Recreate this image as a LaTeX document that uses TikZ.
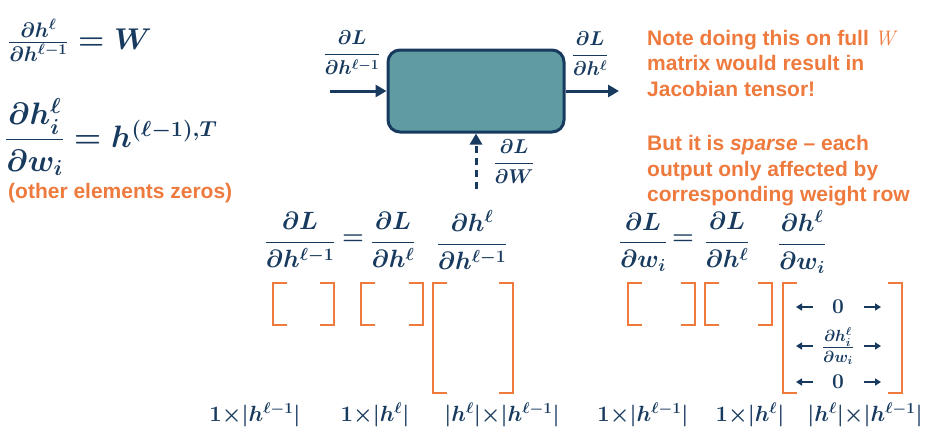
\RequirePackage{fix-cm}
\documentclass[tikz,border=0pt]{standalone}
\usepackage{amsmath}
\usepackage{fontspec}
\usetikzlibrary{arrows.meta}
\newfontfamily\notefont{Liberation Sans}
\definecolor{navyc}{HTML}{173A5E}
\definecolor{tealc}{HTML}{5F9BA1}
\definecolor{orangec}{HTML}{EE7A3E}
% one orange bracket pair: left x, right x, top y, bottom y
\newcommand\brkpair[4]{%
  \draw[brk] (#1+14,#3) -- (#1,#3) -- (#1,#4) -- (#1+14,#4);
  \draw[brk] (#2-14,#3) -- (#2,#3) -- (#2,#4) -- (#2-14,#4);}
\begin{document}
\begin{tikzpicture}[x=1pt,y=-1pt,
  eq/.style={text=navyc, inner sep=0pt, font=\fontsize{25}{28}\selectfont\boldmath},
  note/.style={text=orangec, inner sep=0pt, align=left,
    font=\notefont\bfseries\fontsize{21}{25.5}\selectfont},
  layerbox/.style={draw=navyc, fill=tealc, line width=3pt, rounded corners=12pt,
    minimum width=176pt, minimum height=82pt},
  arr/.style={draw=navyc, line width=3pt, -{Triangle[length=11pt,width=12pt]}},
  sarr/.style={draw=navyc, line width=2pt, -{Triangle[length=6pt,width=7pt]}},
  brk/.style={draw=orangec, line width=2.6pt}]
\useasboundingbox (0,0) rectangle (942,445);

% local gradients
\node[eq, anchor=west, font=\fontsize{30}{34}\selectfont\boldmath] (dhdh) at (8,40)
  {$\frac{\partial h^{\ell}}{\partial h^{\ell-1}} = W$};
\node[eq, anchor=west, font=\fontsize{31}{34}\selectfont\boldmath] (dhdw) at (5,137)
  {$\dfrac{\partial h^{\ell}_{i}}{\partial w_{i}} = h^{(\ell-1),T}$};
\node[note, anchor=west] (zeros) at (8,193) {(other elements zeros)};

% layer with its gradients
\node[layerbox] (layer) at (476,91) {};
\coordinate (inl) at (330,91);
\coordinate (outr) at (619,91);
\coordinate (wgt) at (476,189);
\draw[arr] (inl) -- (layer.west);
\draw[arr] (layer.east) -- (outr);
\draw[arr, dash pattern=on 7pt off 5pt] (wgt) -- (layer.south);
\node[eq, font=\fontsize{20}{22}\selectfont\boldmath] (gin) at (352,53)
  {$\dfrac{\partial L}{\partial h^{\ell-1}}$};
\node[eq, font=\fontsize{20}{22}\selectfont\boldmath] (gout) at (590,54)
  {$\dfrac{\partial L}{\partial h^{\ell}}$};
\node[eq, font=\fontsize{20}{22}\selectfont\boldmath] (gw) at (514,162)
  {$\dfrac{\partial L}{\partial W}$};

% note
\node[note, anchor=north west] (remark) at (647,30)
  {Note doing this on full {\mdseries\rmfamily\itshape W}\\
   matrix would result in\\
   Jacobian tensor!\\[29pt]
   But it is \textit{sparse} – each\\
   output only affected by\\
   corresponding weight row};

% chain rule, input side
\node[eq] (lhsA) at (300,240) {$\dfrac{\partial L}{\partial h^{\ell-1}}$};
\node[eq] (eqA) at (353,240) {$=$};
\node[eq] (midA) at (393,240) {$\dfrac{\partial L}{\partial h^{\ell}}$};
\node[eq] (jacA) at (472,240) {$\dfrac{\partial h^{\ell}}{\partial h^{\ell-1}}$};
\brkpair{273}{334}{283}{325}
\brkpair{361}{423}{283}{325}
\brkpair{433}{513}{283}{393}

% chain rule, weight side
\node[eq] (lhsB) at (643,242) {$\dfrac{\partial L}{\partial w_{i}}$};
\node[eq] (eqB) at (683,240) {$=$};
\node[eq] (midB) at (727,240) {$\dfrac{\partial L}{\partial h^{\ell}}$};
\node[eq] (jacB) at (802,242) {$\dfrac{\partial h^{\ell}}{\partial w_{i}}$};
\brkpair{628}{695}{283}{325}
\brkpair{705}{772}{283}{325}
\brkpair{783}{902}{283}{393}

% rows of the sparse jacobian
\node[eq, font=\fontsize{21}{22}\selectfont\boldmath] (row1) at (838,307) {$0$};
\node[eq, font=\fontsize{23}{24}\selectfont\boldmath] (row2) at (838,346)
  {$\frac{\partial h^{\ell}_{i}}{\partial w_{i}}$};
\node[eq, font=\fontsize{21}{22}\selectfont\boldmath] (row3) at (838,382) {$0$};
\foreach \r in {row1,row2,row3} {
  \draw[sarr] ([xshift=-25pt]\r.center) -- ++(-17,0);
  \draw[sarr] ([xshift=26pt]\r.center) -- ++(17,0);
}

% sizes
\foreach \x/\t [count=\i] in {
    255/{1{\times}|h^{\ell-1}|}, 375/{1{\times}|h^{\ell}|},
    502/{|h^{\ell}|{\times}|h^{\ell-1}|}, 643/{1{\times}|h^{\ell-1}|},
    750/{1{\times}|h^{\ell}|}, 865/{|h^{\ell}|{\times}|h^{\ell-1}|}}
  \node[eq, font=\fontsize{22}{24}\selectfont\boldmath] (size\i) at (\x,415) {$\t$};
\end{tikzpicture}
\end{document}
